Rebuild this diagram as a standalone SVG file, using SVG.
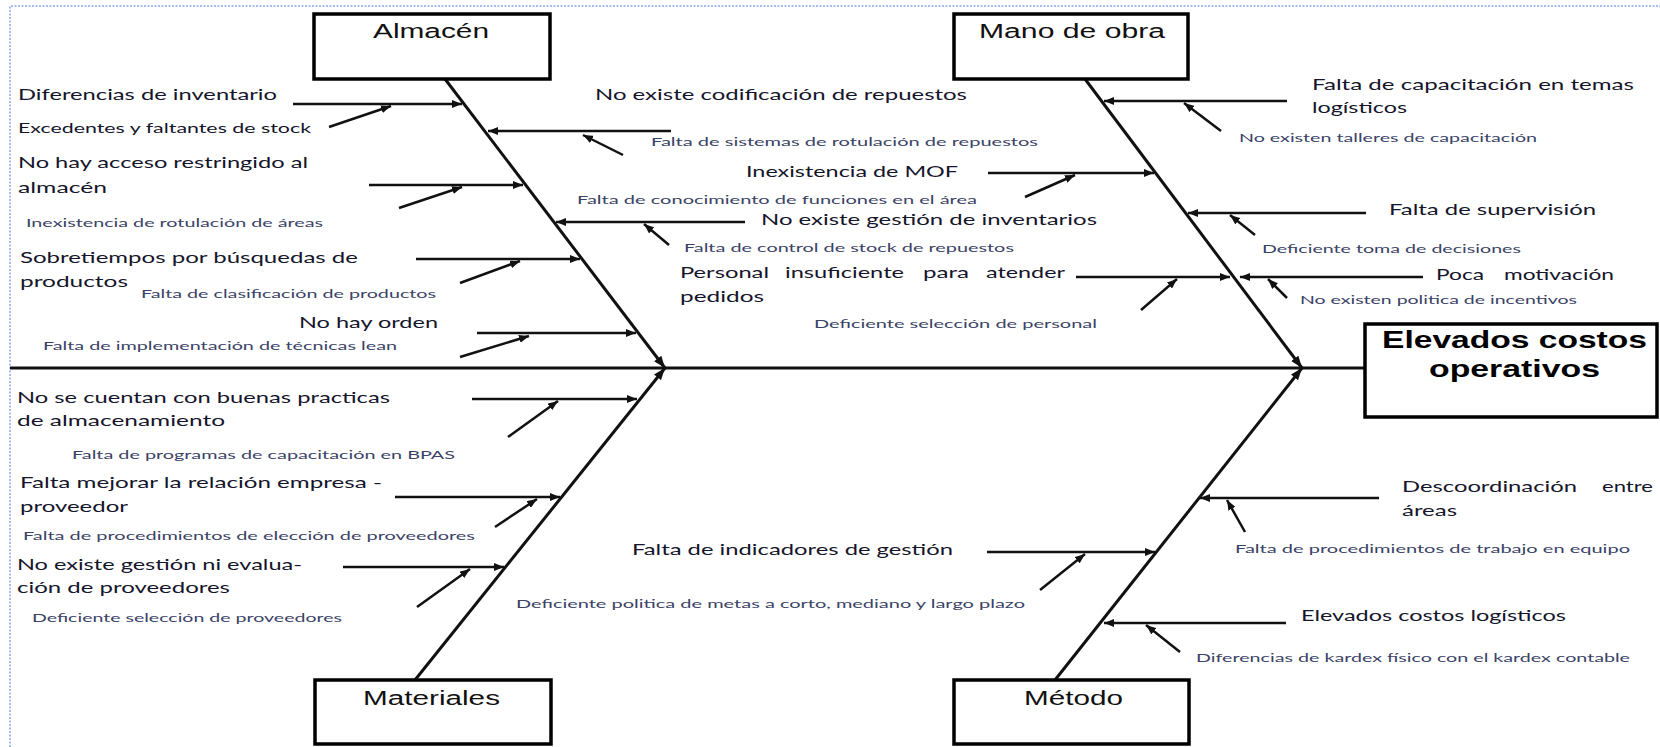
<svg xmlns="http://www.w3.org/2000/svg" width="1660" height="747" viewBox="0 0 1660 747">
  <style>
    .frame{fill:none;stroke:#a9bcf2;stroke-width:2;stroke-dasharray:2 1.5}
    .box{fill:#fff;stroke:#000;stroke-width:3.5}
    .cat{font-family:"Liberation Sans",Arial,sans-serif;font-size:20px;fill:#111}
    .eff{font-family:"Liberation Sans",Arial,sans-serif;font-size:23px;font-weight:bold;fill:#000}
    .m{font-family:Lato,"Liberation Sans",sans-serif;font-size:15px;fill:#15152b}
    .s{font-family:Lato,"Liberation Sans",sans-serif;font-size:11.5px;fill:#3a4266}
    .spine{stroke:#111;stroke-width:3;fill:none}
    .bone{stroke:#111;stroke-width:3;fill:none;marker-end:url(#hb)}
    .sub{stroke:#111;stroke-width:2.5;fill:none;marker-end:url(#h)}
  </style>
  <defs>
    <marker id="h" viewBox="0 0 10 8" markerWidth="10" markerHeight="8" markerUnits="userSpaceOnUse" refX="10" refY="4" orient="auto">
      <path d="M0,0 L10,4 L0,8 z" fill="#111"/>
    </marker>
    <marker id="hb" viewBox="0 0 12 9" markerWidth="12" markerHeight="9" markerUnits="userSpaceOnUse" refX="12" refY="4.5" orient="auto">
      <path d="M0,0 L12,4.5 L0,9 z" fill="#111"/>
    </marker>
  </defs>

  <rect width="1660" height="747" fill="#fff"/>
  <!-- dotted page frame -->
  <path class="frame" d="M10,747 V6 H1660"/>

  <!-- connectors: spine, category bones, cause arrows -->
  <g id="connectors">
    <line class="spine" x1="10" y1="368" x2="1365" y2="368"/>
    <line class="bone" x1="445" y1="79" x2="665" y2="368"/>
    <line class="bone" x1="1085" y1="79" x2="1302" y2="368"/>
    <line class="bone" x1="415" y1="680" x2="665" y2="368"/>
    <line class="bone" x1="1055" y1="680" x2="1302" y2="368"/>

    <!-- Almacén -->
    <line class="sub" x1="293" y1="104" x2="462" y2="104"/>
    <line class="sub" x1="329" y1="127" x2="391" y2="106"/>
    <line class="sub" x1="671" y1="131" x2="488" y2="131"/>
    <line class="sub" x1="623" y1="155" x2="583" y2="135"/>
    <line class="sub" x1="369" y1="185" x2="523" y2="185"/>
    <line class="sub" x1="399" y1="208" x2="462" y2="187"/>
    <line class="sub" x1="745" y1="222" x2="556" y2="222"/>
    <line class="sub" x1="669" y1="245" x2="644" y2="224"/>
    <line class="sub" x1="416" y1="259" x2="580" y2="259"/>
    <line class="sub" x1="460" y1="283" x2="520" y2="261"/>
    <line class="sub" x1="477" y1="333" x2="636" y2="333"/>
    <line class="sub" x1="460" y1="357" x2="529" y2="336"/>

    <!-- Mano de obra -->
    <line class="sub" x1="1287" y1="101" x2="1104" y2="101"/>
    <line class="sub" x1="1221" y1="131" x2="1184" y2="103"/>
    <line class="sub" x1="988" y1="173" x2="1154" y2="173"/>
    <line class="sub" x1="1025" y1="197" x2="1075" y2="175"/>
    <line class="sub" x1="1366" y1="213" x2="1188" y2="213"/>
    <line class="sub" x1="1255" y1="235" x2="1230" y2="215"/>
    <line class="sub" x1="1076" y1="277" x2="1230" y2="277"/>
    <line class="sub" x1="1141" y1="310" x2="1177" y2="279"/>
    <line class="sub" x1="1423" y1="277" x2="1240" y2="277"/>
    <line class="sub" x1="1287" y1="298" x2="1268" y2="279"/>

    <!-- Materiales -->
    <line class="sub" x1="472" y1="399" x2="637" y2="399"/>
    <line class="sub" x1="508" y1="437" x2="558" y2="401"/>
    <line class="sub" x1="395" y1="497" x2="560" y2="497"/>
    <line class="sub" x1="495" y1="527" x2="537" y2="499"/>
    <line class="sub" x1="343" y1="567" x2="504" y2="567"/>
    <line class="sub" x1="417" y1="607" x2="470" y2="569"/>

    <!-- Método -->
    <line class="sub" x1="1379" y1="498" x2="1200" y2="498"/>
    <line class="sub" x1="1245" y1="532" x2="1227" y2="500"/>
    <line class="sub" x1="987" y1="552" x2="1155" y2="552"/>
    <line class="sub" x1="1040" y1="590" x2="1085" y2="554"/>
    <line class="sub" x1="1286" y1="623" x2="1104" y2="623"/>
    <line class="sub" x1="1180" y1="652" x2="1146" y2="625"/>
  </g>

  <!-- category boxes -->
  <g id="cat-almacen">
    <rect class="box" x="314" y="14" width="236" height="65"/>
    <text class="cat" x="373" y="38" textLength="116" lengthAdjust="spacingAndGlyphs">Almacén</text>
  </g>
  <g id="cat-mano-de-obra">
    <rect class="box" x="954" y="14" width="234" height="65"/>
    <text class="cat" x="979" y="38" textLength="186" lengthAdjust="spacingAndGlyphs">Mano de obra</text>
  </g>
  <g id="cat-materiales">
    <rect class="box" x="315" y="680" width="236" height="64"/>
    <text class="cat" x="363" y="705" textLength="137" lengthAdjust="spacingAndGlyphs">Materiales</text>
  </g>
  <g id="cat-metodo">
    <rect class="box" x="954" y="680" width="235" height="64"/>
    <text class="cat" x="1024" y="705" textLength="99" lengthAdjust="spacingAndGlyphs">Método</text>
  </g>

  <!-- effect -->
  <g id="effect">
    <rect class="box" x="1365" y="324" width="292" height="93"/>
    <text class="eff" x="1382" y="348" textLength="265" lengthAdjust="spacingAndGlyphs">Elevados costos</text>
    <text class="eff" x="1429" y="377" textLength="171" lengthAdjust="spacingAndGlyphs">operativos</text>
  </g>

  <!-- causes: Almacén -->
  <g id="c-diferencias-inventario">
    <text class="m" x="18" y="100" textLength="259" lengthAdjust="spacingAndGlyphs">Diferencias de inventario</text>
  </g>
  <g id="c-excedentes">
    <text class="m" x="18" y="133" textLength="293" lengthAdjust="spacingAndGlyphs" style="font-size:14px">Excedentes y faltantes de stock</text>
  </g>
  <g id="c-acceso">
    <text class="m" x="18" y="168" textLength="290" lengthAdjust="spacingAndGlyphs">No hay acceso restringido al</text>
    <text class="m" x="18" y="193" textLength="89" lengthAdjust="spacingAndGlyphs">almacén</text>
  </g>
  <g id="c-rotulacion-areas">
    <text class="s" x="26" y="227" textLength="297" lengthAdjust="spacingAndGlyphs">Inexistencia de rotulación de áreas</text>
  </g>
  <g id="c-sobretiempos">
    <text class="m" x="20" y="263" textLength="338" lengthAdjust="spacingAndGlyphs">Sobretiempos por búsquedas de</text>
    <text class="m" x="20" y="287" textLength="108" lengthAdjust="spacingAndGlyphs">productos</text>
  </g>
  <g id="c-clasificacion">
    <text class="s" x="141" y="298" textLength="295" lengthAdjust="spacingAndGlyphs">Falta de clasificación de productos</text>
  </g>
  <g id="c-orden">
    <text class="m" x="299" y="328" textLength="139" lengthAdjust="spacingAndGlyphs">No hay orden</text>
  </g>
  <g id="c-lean">
    <text class="s" x="43" y="350" textLength="354" lengthAdjust="spacingAndGlyphs">Falta de implementación de técnicas lean</text>
  </g>
  <g id="c-codificacion">
    <text class="m" x="595" y="100" textLength="372" lengthAdjust="spacingAndGlyphs">No existe codificación de repuestos</text>
  </g>
  <g id="c-rotulacion-repuestos">
    <text class="s" x="651" y="146" textLength="387" lengthAdjust="spacingAndGlyphs">Falta de sistemas de rotulación de repuestos</text>
  </g>
  <g id="c-gestion-inventarios">
    <text class="m" x="761" y="225" textLength="336" lengthAdjust="spacingAndGlyphs">No existe gestión de inventarios</text>
  </g>
  <g id="c-control-stock">
    <text class="s" x="684" y="252" textLength="330" lengthAdjust="spacingAndGlyphs">Falta de control de stock de repuestos</text>
  </g>

  <!-- causes: Mano de obra -->
  <g id="c-mof">
    <text class="m" x="746" y="177" textLength="212" lengthAdjust="spacingAndGlyphs">Inexistencia de MOF</text>
  </g>
  <g id="c-funciones">
    <text class="s" x="577" y="204" textLength="400" lengthAdjust="spacingAndGlyphs">Falta de conocimiento de funciones en el área</text>
  </g>
  <g id="c-personal">
    <text class="m" y="278"><tspan x="680" textLength="89" lengthAdjust="spacingAndGlyphs">Personal</tspan> <tspan x="785" textLength="119" lengthAdjust="spacingAndGlyphs">insuficiente</tspan> <tspan x="923" textLength="46" lengthAdjust="spacingAndGlyphs">para</tspan> <tspan x="986" textLength="79" lengthAdjust="spacingAndGlyphs">atender</tspan></text>
    <text class="m" x="680" y="302" textLength="84" lengthAdjust="spacingAndGlyphs">pedidos</text>
  </g>
  <g id="c-seleccion-personal">
    <text class="s" x="814" y="328" textLength="283" lengthAdjust="spacingAndGlyphs">Deficiente selección de personal</text>
  </g>
  <g id="c-capacitacion">
    <text class="m" x="1312" y="90" textLength="322" lengthAdjust="spacingAndGlyphs">Falta de capacitación en temas</text>
    <text class="m" x="1312" y="113" textLength="95" lengthAdjust="spacingAndGlyphs">logísticos</text>
  </g>
  <g id="c-talleres">
    <text class="s" x="1239" y="142" textLength="298" lengthAdjust="spacingAndGlyphs">No existen talleres de capacitación</text>
  </g>
  <g id="c-supervision">
    <text class="m" x="1389" y="215" textLength="207" lengthAdjust="spacingAndGlyphs">Falta de supervisión</text>
  </g>
  <g id="c-decisiones">
    <text class="s" x="1262" y="253" textLength="259" lengthAdjust="spacingAndGlyphs">Deficiente toma de decisiones</text>
  </g>
  <g id="c-motivacion">
    <text class="m" y="280"><tspan x="1436" textLength="48" lengthAdjust="spacingAndGlyphs">Poca</tspan> <tspan x="1504" textLength="110" lengthAdjust="spacingAndGlyphs">motivación</tspan></text>
  </g>
  <g id="c-incentivos">
    <text class="s" x="1300" y="304" textLength="277" lengthAdjust="spacingAndGlyphs">No existen politica de incentivos</text>
  </g>

  <!-- causes: Materiales -->
  <g id="c-buenas-practicas">
    <text class="m" x="17" y="403" textLength="373" lengthAdjust="spacingAndGlyphs">No se cuentan con buenas practicas</text>
    <text class="m" x="17" y="426" textLength="208" lengthAdjust="spacingAndGlyphs">de almacenamiento</text>
  </g>
  <g id="c-bpas">
    <text class="s" x="72" y="459" textLength="383" lengthAdjust="spacingAndGlyphs">Falta de programas de capacitación en BPAS</text>
  </g>
  <g id="c-relacion">
    <text class="m" x="20" y="488" textLength="362" lengthAdjust="spacingAndGlyphs">Falta mejorar la relación empresa -</text>
    <text class="m" x="20" y="512" textLength="108" lengthAdjust="spacingAndGlyphs">proveedor</text>
  </g>
  <g id="c-eleccion">
    <text class="s" x="23" y="540" textLength="452" lengthAdjust="spacingAndGlyphs">Falta de procedimientos de elección de proveedores</text>
  </g>
  <g id="c-evaluacion">
    <text class="m" x="17" y="570" textLength="285" lengthAdjust="spacingAndGlyphs">No existe gestión ni evalua-</text>
    <text class="m" x="17" y="593" textLength="213" lengthAdjust="spacingAndGlyphs">ción de proveedores</text>
  </g>
  <g id="c-seleccion-proveedores">
    <text class="s" x="32" y="622" textLength="310" lengthAdjust="spacingAndGlyphs">Deficiente selección de proveedores</text>
  </g>

  <!-- causes: Método -->
  <g id="c-indicadores">
    <text class="m" x="632" y="555" textLength="321" lengthAdjust="spacingAndGlyphs">Falta de indicadores de gestión</text>
  </g>
  <g id="c-metas">
    <text class="s" x="516" y="608" textLength="509" lengthAdjust="spacingAndGlyphs">Deficiente politica de metas a corto, mediano y largo plazo</text>
  </g>
  <g id="c-descoordinacion">
    <text class="m" y="492"><tspan x="1402" textLength="175" lengthAdjust="spacingAndGlyphs">Descoordinación</tspan> <tspan x="1602" textLength="51" lengthAdjust="spacingAndGlyphs">entre</tspan></text>
    <text class="m" x="1402" y="516" textLength="55" lengthAdjust="spacingAndGlyphs">áreas</text>
  </g>
  <g id="c-trabajo-equipo">
    <text class="s" x="1235" y="553" textLength="395" lengthAdjust="spacingAndGlyphs">Falta de procedimientos de trabajo en equipo</text>
  </g>
  <g id="c-costos-logisticos">
    <text class="m" x="1301" y="621" textLength="265" lengthAdjust="spacingAndGlyphs">Elevados costos logísticos</text>
  </g>
  <g id="c-kardex">
    <text class="s" x="1196" y="662" textLength="434" lengthAdjust="spacingAndGlyphs">Diferencias de kardex físico con el kardex contable</text>
  </g>
</svg>
